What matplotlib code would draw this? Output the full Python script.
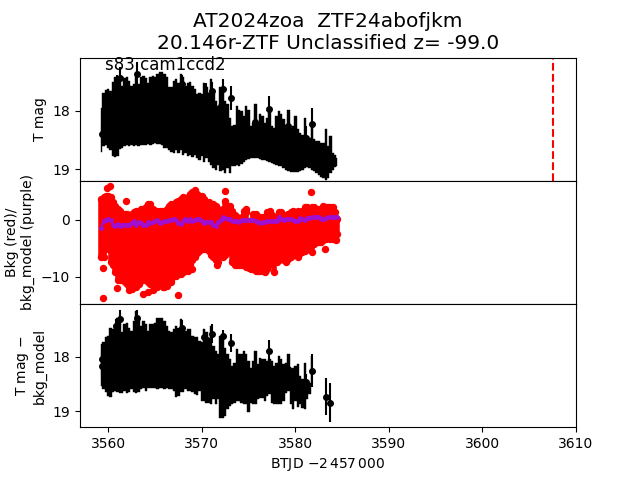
import matplotlib
matplotlib.use("Agg")
import matplotlib.pyplot as plt
import numpy as np

btjd = [3559.25,3559.5,3559.75,3560.0,3560.25,3560.5,3560.75,3561.0,3561.25,3561.5,3561.75,3562.0,
3562.25,3562.5,3562.75,3563.0,3563.25,3563.5,3563.75,3564.0,3564.25,3564.5,3564.75,3565.0,
3565.25,3565.5,3565.75,3566.0,3566.25,3566.5,3566.75,3567.0,3567.25,3567.5,3567.75,3568.0,
3568.25,3568.5,3568.75,3569.0,3569.25,3569.5,3569.75,3570.0,3570.25,3570.5,3570.75,3571.0,
3571.25,3571.5,3571.75,3572.0,3572.25,3572.5,3572.75,3573.0,3573.25,3573.5,3573.75,3574.0,
3574.25,3574.5,3574.75,3575.0,3575.25,3575.5,3575.75,3576.0,3576.25,3576.5,3576.75,3577.0,
3577.25,3577.5,3577.75,3578.0,3578.25,3578.5,3578.75,3579.0,3579.25,3579.5,3579.75,3580.0,
3580.25,3580.5,3580.75,3581.0,3581.25,3581.5,3581.75,3582.0,3582.25,3582.5,3582.75,3583.0,
3583.25,3583.5,3583.75,3584.0,3584.25,3584.5]

tmag_bright = [17.95,17.69,17.65,17.63,17.66,17.50,17.43,17.46,17.49,17.57,17.44,17.43,
17.49,17.57,17.55,17.43,17.55,17.43,17.40,17.44,17.53,17.43,17.40,17.43,
17.37,17.33,17.34,17.37,17.43,17.59,17.59,17.49,17.46,17.52,17.37,17.43,
17.57,17.52,17.50,17.57,17.63,17.72,17.69,17.72,17.52,17.60,17.69,17.46,
17.72,17.83,17.92,17.60,17.57,17.83,17.89,18.12,18.26,18.24,17.92,17.98,
18.01,18.09,17.92,17.98,18.26,18.21,17.89,18.21,18.06,18.09,18.21,18.12,
18.01,18.26,18.29,18.09,18.01,18.06,18.15,18.24,17.98,18.29,18.26,18.09,
18.32,18.38,18.41,18.12,18.44,18.47,18.20,18.49,18.52,18.52,18.55,18.55,
18.32,18.61,18.44,18.72,18.75,18.81]

tmag_faint = [18.70,18.61,18.59,18.63,18.67,18.78,18.79,18.78,18.65,18.63,18.61,18.58,
18.61,18.59,18.61,18.59,18.61,18.59,18.58,18.59,18.57,18.58,18.57,18.55,
18.57,18.57,18.59,18.63,18.64,18.67,18.70,18.72,18.68,18.72,18.67,18.75,
18.72,18.78,18.75,18.80,18.75,18.81,18.84,18.78,18.87,18.81,18.88,18.93,
18.98,19.01,18.93,19.04,19.01,19.07,18.98,19.07,18.95,18.95,18.93,18.95,
18.91,18.87,18.84,18.83,18.81,18.81,18.81,18.81,18.83,18.84,18.84,18.86,
18.87,18.90,18.91,18.93,18.94,18.95,18.98,19.01,19.04,19.05,19.05,19.05,
19.05,19.04,19.01,18.98,18.97,18.98,19.01,19.04,19.07,19.10,19.13,19.16,
19.18,19.16,19.07,19.01,18.97,18.94]

spot_t = [3559.3,3560.7,3561.25,3563.02,3560.89,3567.83,3572.28,3571.1,3570.43,3573.17,3577.15,
3581.81,3575.66,3579.22,3581.17,3572.1,3583.3]
spot_mag = [18.40,18.55,17.44,17.37,17.55,17.55,17.62,17.67,17.73,17.78,17.97,18.23,18.19,18.27,18.46,17.92,18.95]
spot_err = [0.15,0.20,0.19,0.20,0.17,0.17,0.17,0.17,0.20,0.20,0.22,0.27,0.20,0.20,0.20,0.20,0.20]

bkg_high = [3.7,4.0,4.3,4.3,4.0,3.1,2.5,1.9,1.6,1.1,1.1,1.1,
0.8,1.1,1.4,1.6,1.6,1.9,1.9,2.2,2.8,2.8,1.9,1.6,
1.6,1.6,1.6,1.4,1.9,2.5,2.8,2.5,3.1,3.4,3.7,4.0,
3.7,4.0,4.6,4.9,5.2,4.6,4.3,4.3,3.7,3.1,3.1,2.5,
2.8,2.5,1.9,1.6,1.9,3.4,2.5,2.5,1.6,0.8,0.5,0.2,
0.5,1.6,1.4,-0.1,-0.1,1.1,1.1,0.2,0.5,0.5,0.2,1.4,
1.6,0.8,0.5,0.5,1.4,1.4,0.8,0.8,1.1,1.4,1.6,1.4,
1.6,1.1,1.6,2.2,2.2,1.9,2.2,2.2,1.6,1.9,1.9,2.5,
2.2,2.2,2.2,2.2,1.4,0.2]

bkg_low = [-6.5,-6.5,-5.1,-5.1,-7.4,-8.0,-9.2,-10.6,-10.6,-10.6,-10.9,-11.2,
-12.4,-12.1,-11.5,-11.8,-11.2,-10.6,-10.6,-10.4,-10.9,-11.2,-11.2,-10.6,
-11.8,-11.5,-11.5,-11.8,-11.2,-10.1,-10.6,-9.8,-9.8,-9.5,-9.5,-9.2,
-8.9,-8.9,-7.7,-7.1,-6.5,-5.9,-5.4,-5.1,-5.1,-5.1,-5.4,-6.2,
-6.5,-7.1,-7.4,-6.2,-6.5,-6.2,-5.6,-5.1,-7.4,-8.0,-7.9,-8.0,
-7.9,-7.7,-8.3,-8.4,-8.6,-8.6,-8.9,-8.9,-8.9,-8.9,-9.2,-8.6,
-7.7,-7.1,-9.2,-7.4,-7.1,-6.5,-7.1,-7.4,-6.8,-6.5,-6.2,-6.2,
-6.5,-5.9,-5.6,-5.4,-5.1,-5.1,-5.6,-4.2,-3.9,-3.9,-3.9,-3.6,
-3.3,-3.0,-3.3,-3.3,-3.3,-2.4]

bkg_out_t = [3559.45,3559.45,3559.9,3560.15,3560.9,3561.9,3563.7,3564.2,3564.8,3565.9,3566.25,3566.7,3567.45,3569.0,3571.65,3572.5,3574.7,3581.7,3583.2,3584.3]
bkg_out_v = [-8.5,-13.8,5.7,6.0,-12.0,3.4,-13.0,-12.7,-12.3,-11.8,-11.6,-10.9,-13.3,-8.7,-7.9,5.1,2.0,5.0,-5.2,-3.6]

bkg_model = [-1.4,-0.2,0.05,0.2,0.05,-0.8,-1.0,-0.65,-1.0,-0.8,-0.8,-0.95,
-0.8,-0.5,-0.25,-0.8,-0.35,-0.5,-0.8,-0.95,-0.4,-0.5,-0.4,-0.25,
-0.05,-0.5,-0.35,-0.25,-0.25,-0.05,0.05,0.2,-0.05,-0.5,-0.7,-0.25,
0.2,-0.25,0.2,-0.25,-0.05,0.2,0.2,-0.25,-0.5,-0.35,-0.4,-0.4,
-0.8,-1.1,-0.35,0.05,0.5,0.35,0.25,0.15,-0.1,-0.2,-0.25,-0.3,
-0.05,-0.05,-0.05,0.0,0.05,0.0,-0.1,-0.35,-0.45,-0.35,-0.35,-0.25,
-0.25,-0.2,-0.25,-0.1,0.5,0.2,0.0,0.1,0.2,0.2,0.05,-0.1,
-0.1,0.35,0.1,0.0,0.35,0.4,0.45,0.45,0.5,0.45,0.2,0.2,
0.3,0.45,0.5,0.45,0.5,0.55]

corr_bright = [17.77,17.74,17.65,17.62,17.47,17.50,17.41,17.29,17.26,17.56,17.41,17.38,
17.47,17.53,17.35,17.16,17.29,17.44,17.35,17.41,17.53,17.41,17.41,17.38,
17.29,17.30,17.29,17.35,17.44,17.53,17.56,17.50,17.44,17.47,17.32,17.44,
17.53,17.50,17.50,17.62,17.65,17.65,17.71,17.74,17.50,17.56,17.71,17.44,
17.80,17.90,17.96,17.62,17.59,17.84,17.96,18.05,18.17,18.11,17.87,17.96,
17.96,17.90,17.96,18.08,18.20,18.08,17.90,18.14,18.02,18.05,18.05,18.08,
18.05,18.08,18.17,18.11,17.99,18.05,18.14,18.11,17.95,18.23,18.20,18.17,
18.13,18.35,18.41,18.11,18.45,18.48,17.99]

corr_faint = [18.54,18.60,18.64,18.72,18.74,18.64,18.62,18.64,18.66,18.66,18.63,18.66,
18.64,18.60,18.64,18.66,18.64,18.60,18.58,18.62,18.58,18.58,18.57,18.57,
18.60,18.57,18.58,18.60,18.58,18.60,18.60,18.63,18.74,18.72,18.64,18.64,
18.60,18.62,18.62,18.64,18.68,18.70,18.63,18.81,18.82,18.84,18.84,18.86,
18.78,18.87,18.78,19.12,19.12,19.09,18.96,18.90,18.87,18.84,18.81,18.81,
18.84,18.86,18.87,19.02,18.84,18.86,18.87,18.78,18.75,18.75,18.82,18.72,
18.69,18.84,18.87,18.86,18.87,18.86,18.81,18.66,18.63,18.87,18.96,18.81,
18.93,18.87,18.94,18.96,18.78,18.69,18.54]

cspot_t = [3559.29,3559.29,3561.25,3563.02,3560.82,3567.83,3572.28,3571.1,3570.2,3570.57,3573.17,3577.15,
3581.81,3579.22,3581.17,3583.31,3583.74]
cspot_mag = [18.05,18.18,17.32,17.30,17.45,17.47,17.63,17.58,17.65,17.69,17.75,17.90,18.26,18.23,18.46,18.73,18.84]
cspot_err = [0.25,0.25,0.17,0.15,0.13,0.14,0.12,0.17,0.13,0.14,0.17,0.20,0.30,0.20,0.15,0.33,0.35]

marker_line = 3607.5
xticks = [3560,3570,3580,3590,3600,3610]


def band(ax, t, bright, faint):
    ts = t[:len(bright)]
    ax.fill_between(ts, bright, faint, step="mid", color="k", lw=0.3)


t = np.array(btjd)
fig, axs = plt.subplots(3, 1, sharex=True, figsize=(6.4, 4.8), dpi=100)
fig.subplots_adjust(hspace=0)
ax1, ax2, ax3 = axs

band(ax1, t, tmag_bright, tmag_faint)
ax1.errorbar(spot_t, spot_mag, yerr=spot_err, fmt="o", color="k", ms=4)
ax1.axvline(marker_line, color="r", ls="--")
ax1.set_ylim(19.2, 17.09)
ax1.set_yticks([18, 19])
ax1.set_ylabel("T mag")
ax1.text(3559.7, 17.22, "s83 cam1ccd2", fontsize=12, va="center", ha="left")
ax1.set_title("AT2024zoa  ZTF24abofjkm\n20.146r-ZTF Unclassified z= -99.0", fontsize=14.5)

ax2.vlines(t, bkg_low, bkg_high, color="r", lw=4)
ax2.plot(t, bkg_high, "o", color="r", ms=4.3)
ax2.plot(t, bkg_low, "o", color="r", ms=4.3)
ax2.plot(bkg_out_t, bkg_out_v, "o", color="r", ms=4.3)
ax2.plot(t, bkg_model, "o-", color="#a010d0", ms=2.5, lw=1.8)
ax2.set_ylim(-14.8, 6.9)
ax2.set_yticks([-10, 0])
ax2.set_ylabel("Bkg (red)/\nbkg_model (purple)")

band(ax3, t, corr_bright, corr_faint)
ax3.errorbar(cspot_t, cspot_mag, yerr=cspot_err, fmt="o", color="k", ms=4)
ax3.set_ylim(19.29, 17.04)
ax3.set_yticks([18, 19])
ax3.set_ylabel("T mag $-$\nbkg_model")
ax3.set_xlim(3556.98, 3609.9)
ax3.set_xticks(xticks)
ax3.set_xlabel(r"BTJD $-2\,457\,000$")

fig.savefig("out.png", dpi=100)
